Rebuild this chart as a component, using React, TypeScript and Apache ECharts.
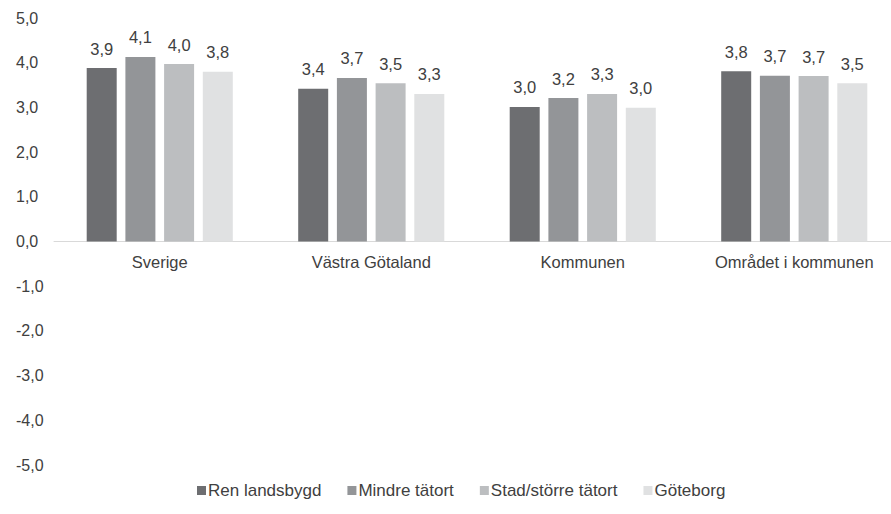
import React, { useEffect, useRef } from "react";
import * as echarts from "echarts";

const categories = ["Sverige", "Västra Götaland", "Kommunen", "Området i kommunen"];
const seriesNames = ["Ren landsbygd", "Mindre tätort", "Stad/större tätort", "Göteborg"];
const renLandsbygd = [3.88, 3.42, 3.01, 3.81];
const mindreTatort = [4.13, 3.66, 3.21, 3.71];
const stadStorreTatort = [3.97, 3.54, 3.3, 3.7];
const goteborg = [3.8, 3.3, 2.99, 3.54];
const colors = ["#6d6e71", "#939598", "#bcbec0", "#e0e1e2"];

const fmt = (v: number) => v.toFixed(1).replace(".", ",");
const FONT = "Liberation Sans, Arial, sans-serif";

export default function App() {
  const ref = useRef<HTMLDivElement>(null);
  useEffect(() => {
    if (!ref.current) return;
    const chart = echarts.init(ref.current, undefined, { renderer: "svg" });
    const data = [renLandsbygd, mindreTatort, stadStorreTatort, goteborg];
    const top = 18;
    const height = 447;
    chart.setOption({
      animation: false,
      textStyle: { fontFamily: FONT },
      grid: {
        left: 54,
        width: 846,
        top,
        height,
        containLabel: false,
        outerBoundsMode: "none",
      },
      legend: {
        bottom: 10,
        left: 192,
        padding: 5,
        itemWidth: 9,
        itemHeight: 9,
        itemGap: 26,
        icon: "rect",
        textStyle: { fontSize: 17, fontFamily: FONT, color: "#404040", padding: [0, 0, 0, -3] },
        data: seriesNames,
      },
      xAxis: {
        type: "category",
        data: categories,
        position: "bottom",
        offset: -height / 2,
        axisLine: { onZero: false, lineStyle: { color: "#d9d9d9", width: 1 } },
        axisTick: { show: false },
        axisLabel: { fontSize: 16.5, fontFamily: FONT, color: "#404040", margin: 12 },
      },
      yAxis: {
        type: "value",
        min: -5,
        max: 5,
        interval: 1,
        splitLine: { show: false },
        axisLine: { show: false },
        axisTick: { show: false },
        axisLabel: {
          fontSize: 16,
          fontFamily: FONT,
          color: "#404040",
          margin: 38,
          align: "left",
          formatter: (v: number) => fmt(v),
        },
      },
      series: data.map((d, i) => ({
        name: seriesNames[i],
        type: "bar",
        data: d,
        barWidth: 30,
        barGap: "29%",
        itemStyle: { color: colors[i] },
        label: {
          show: true,
          position: "top",
          distance: 11,
          fontSize: 16.5,
          fontFamily: FONT,
          color: "#404040",
          formatter: (p: any) => fmt(p.value),
        },
      })),
    });
    return () => chart.dispose();
  }, []);
  return (
    <div
      ref={ref}
      style={{ position: "absolute", left: 0, top: 0, width: 891, height: 514 }}
    />
  );
}
